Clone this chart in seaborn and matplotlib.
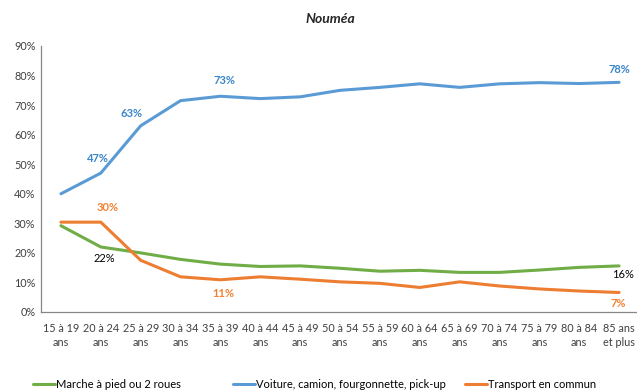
import matplotlib
matplotlib.use("Agg")
import matplotlib.pyplot as plt
import seaborn as sns
import pandas as pd
from matplotlib.lines import Line2D

sns.set_style("white")
plt.rcParams['font.family'] = ['Lato', 'DejaVu Sans']

categories = ["15 à 19\nans", "20 à 24\nans", "25 à 29\nans", "30 à 34\nans", "35 à 39\nans",
              "40 à 44\nans", "45 à 49\nans", "50 à 54\nans", "55 à 59\nans", "60 à 64\nans",
              "65 à 69\nans", "70 à 74\nans", "75 à 79\nans", "80 à 84\nans", "85 ans\net plus"]
marche = [29.2, 22.0, 20.0, 17.8, 16.2, 15.4, 15.6, 14.8, 13.8, 14.1, 13.4, 13.4, 14.2, 15.1, 15.6]
voiture = [40.0, 47.0, 63.0, 71.5, 73.0, 72.2, 72.8, 75.0, 76.0, 77.2, 76.0, 77.2, 77.6, 77.3, 77.7]
transport = [30.4, 30.4, 17.5, 11.9, 10.9, 11.9, 11.1, 10.2, 9.7, 8.3, 10.2, 8.8, 7.8, 7.1, 6.6]
series_names = ["Marche à pied ou 2 roues", "Voiture, camion, fourgonnette, pick-up", "Transport en commun"]
colors = ["#70AD47", "#5B9BD5", "#ED7D31"]

rows = []
for name, vals in zip(series_names, [marche, voiture, transport]):
    for i, v in enumerate(vals):
        rows.append({"idx": i, "val": v, "serie": name})
df = pd.DataFrame(rows)

fig = plt.figure(figsize=(6.37, 3.92), dpi=100)
ax = fig.add_axes([41/637, 80/392, 598/637, 266/392])
sns.lineplot(data=df, x="idx", y="val", hue="serie", palette=colors, hue_order=series_names,
             linewidth=2.2, legend=False, ax=ax)
ax.set_xlim(-0.5, 14.5)
ax.set_ylim(0, 90)
ax.set_yticks(range(0, 91, 10))
ax.set_yticklabels([f"{v}%" for v in range(0, 91, 10)], fontsize=7.8, color="#404040")
ax.set_xticks(range(len(categories)))
ax.set_xticklabels(categories, fontsize=7.8, color="#404040", linespacing=1.3)
ax.tick_params(axis="both", length=0, pad=4)
ax.tick_params(axis="x", pad=8)
ax.set_xlabel("")
ax.set_ylabel("")
for s in ["top", "right"]:
    ax.spines[s].set_visible(False)
for s in ["left", "bottom"]:
    ax.spines[s].set_color("#868686")
    ax.spines[s].set_linewidth(0.9)

lab_blue = "#3A86C8"
lab_orange = "#F08235"
labels = [
    (0.92, 52.0, "47%", lab_blue, "bold"),
    (1.78, 67.0, "63%", lab_blue, "bold"),
    (4.1, 78.3, "73%", lab_blue, "bold"),
    (14.0, 82.0, "78%", lab_blue, "bold"),
    (1.17, 35.5, "30%", lab_orange, "bold"),
    (1.1, 18.2, "22%", "#000000", "normal"),
    (4.08, 6.2, "11%", lab_orange, "bold"),
    (14.1, 12.8, "16%", "#000000", "normal"),
    (13.97, 2.8, "7%", lab_orange, "bold"),
]
for x, y, t, c, w in labels:
    ax.text(x, y, t, color=c, fontweight=w, fontsize=8, ha="center", va="center")

fig.text(330/637, 1 - 19/392, "Nouméa", fontsize=10, fontweight="bold", fontstyle="italic",
         ha="center", va="center")

legend_x = [33/637, 233/637, 465/637]
for line_color, name, lx in zip(colors, series_names, legend_x):
    h = Line2D([], [], color=line_color, linewidth=2.2)
    leg = fig.legend([h], [name], loc="center left", bbox_to_anchor=(lx, 1 - 384/392),
                     frameon=False, fontsize=8, handlelength=2.0, handletextpad=0.1,
                     borderpad=0, borderaxespad=0)
    for txt in leg.get_texts():
        txt.set_color("#000000")

fig.savefig("out.png", dpi=100)
